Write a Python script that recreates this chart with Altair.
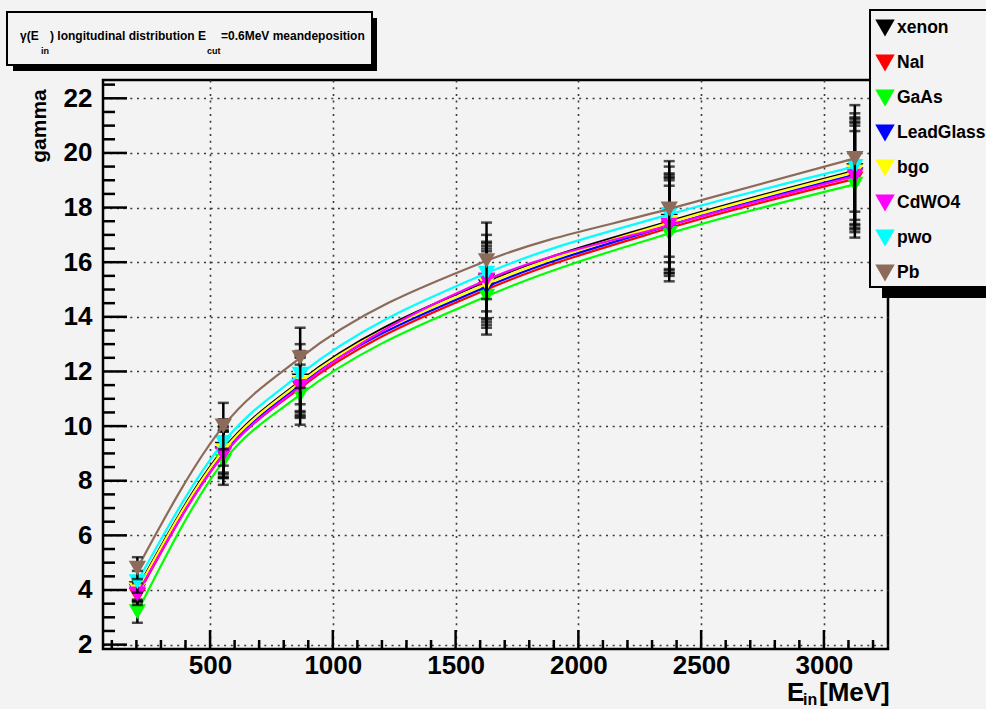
import altair as alt
import pandas as pd

# ---------------- data ----------------
ENERGY = [204, 554, 867, 1626, 2370, 3126]
SERIES = ["xenon", "NaI", "GaAs", "LeadGlass", "bgo", "CdWO4", "pwo", "Pb"]
COLORS = ["#000000", "#ff0000", "#00ff00", "#0000ff", "#ffff00", "#ff00ff", "#00ffff", "#8c6b5a"]
XENON = [4.05, 9.15, 11.65, 15.30, 17.50, 19.35]
NAI = [3.80, 8.95, 11.40, 15.00, 17.25, 19.05]
GAAS = [3.20, 8.70, 11.15, 14.75, 17.05, 18.85]
LEADGLASS = [3.95, 9.00, 11.50, 15.10, 17.35, 19.20]
BGO = [4.00, 9.10, 11.60, 15.20, 17.45, 19.30]
CDWO4 = [3.85, 8.95, 11.45, 15.35, 17.35, 19.15]
PWO = [4.30, 9.40, 11.90, 15.60, 17.75, 19.50]
PB = [4.80, 10.00, 12.50, 16.05, 17.95, 19.80]
GAMMA_ERR = [0.40, 0.85, 1.10, 1.40, 1.75, 1.95]

X_MAJOR = [500, 1000, 1500, 2000, 2500, 3000]
X_MINOR = [100, 200, 300, 400, 600, 700, 800, 900, 1100, 1200, 1300, 1400,
           1600, 1700, 1800, 1900, 2100, 2200, 2300, 2400, 2600, 2700, 2800,
           2900, 3100, 3200]
Y_MAJOR = [2, 4, 6, 8, 10, 12, 14, 16, 18, 20, 22]
Y_MINOR = [2.5, 3, 3.5, 4.5, 5, 5.5, 6.5, 7, 7.5, 8.5, 9, 9.5, 10.5, 11, 11.5,
           12.5, 13, 13.5, 14.5, 15, 15.5, 16.5, 17, 17.5, 18.5, 19, 19.5,
           20.5, 21, 21.5, 22.5]

TITLE_PARTS = ["\u03b3(E", "in", ") longitudinal distribution E", "cut", "=0.6MeV meandeposition"]
Y_TITLE = "gamma"
X_TITLE_PARTS = ["E", "in", "[MeV]"]

VALUES = [XENON, NAI, GAAS, LEADGLASS, BGO, CDWO4, PWO, PB]

# ---------------- layout ----------------
LEFT, TOP = 103, 80
W, H = 785, 569
BG = "#f3f3f3"
FONT = "Liberation Sans"

xscale = alt.Scale(domain=[64, 3261], nice=False, zero=False)
yscale = alt.Scale(domain=[1.84, 22.67], nice=False, zero=False)

xaxis = alt.Axis(values=X_MAJOR, title=None, grid=True, gridColor="#3a3a3a",
                 gridDash=[2, 4.7], gridWidth=1.6, ticks=False, tickSize=0,
                 domain=False, labelFont=FONT, labelFontWeight="bold",
                 labelFontSize=26, labelPadding=3, labelColor="black",
                 labelFlush=False, labelOverlap=False, format="d")
yaxis = alt.Axis(values=Y_MAJOR, title=None, grid=True, gridColor="#3a3a3a",
                 gridDash=[2, 4.7], gridWidth=1.6, ticks=False, tickSize=0,
                 domain=False, labelFont=FONT, labelFontWeight="bold",
                 labelFontSize=26, labelPadding=11, labelColor="black",
                 labelFlush=False, labelOverlap=False, format="d")


def xenc(f):
    return alt.X(f"{f}:Q", scale=xscale, axis=xaxis)


def yenc(f):
    return alt.Y(f"{f}:Q", scale=yscale, axis=yaxis)


one = pd.DataFrame({"k": [0]})


def px_text(label, x, y, size, font=FONT, align="left", baseline="alphabetic", angle=0):
    kw = dict(font=font, fontWeight="bold", fontSize=size, align=align,
              baseline=baseline, color="black")
    if angle:
        kw["angle"] = angle
    return alt.Chart(pd.DataFrame({"label": [label]})).mark_text(**kw).encode(
        x=alt.value(x - LEFT), y=alt.value(y - TOP), text="label:N")


def px_rect(x1, y1, x2, y2, fill, stroke=None, sw=0):
    kw = dict(fill=fill, opacity=1)
    if stroke:
        kw.update(stroke=stroke, strokeWidth=sw)
    return alt.Chart(one).mark_rect(**kw).encode(
        x=alt.value(x1 - LEFT), x2=alt.value(x2 - LEFT),
        y=alt.value(y1 - TOP), y2=alt.value(y2 - TOP))


layers = []

# tick marks (inward, ROOT style)
ymaj = pd.DataFrame({"t": Y_MAJOR})
ymin = pd.DataFrame({"t": Y_MINOR})
xmaj = pd.DataFrame({"t": X_MAJOR})
xmin = pd.DataFrame({"t": X_MINOR})
layers.append(alt.Chart(ymaj).mark_rule(color="black", strokeWidth=2.5).encode(
    y=yenc("t"), x=alt.value(0), x2=alt.value(24)))
layers.append(alt.Chart(ymin).mark_rule(color="black", strokeWidth=2.5).encode(
    y=yenc("t"), x=alt.value(0), x2=alt.value(12)))
layers.append(alt.Chart(xmaj).mark_rule(color="black", strokeWidth=2.5).encode(
    x=xenc("t"), y=alt.value(H), y2=alt.value(H - 19)))
layers.append(alt.Chart(xmin).mark_rule(color="black", strokeWidth=2.5).encode(
    x=xenc("t"), y=alt.value(H), y2=alt.value(H - 9)))

# series
for name, color, vals in zip(SERIES, COLORS, VALUES):
    d = pd.DataFrame({"E": ENERGY, "gamma": vals})
    d["lo"] = [v - e for v, e in zip(vals, GAMMA_ERR)]
    d["hi"] = [v + e for v, e in zip(vals, GAMMA_ERR)]
    base = alt.Chart(d)
    layers.append(base.mark_line(color=color, strokeWidth=2.2, interpolate="monotone").encode(
        x=xenc("E"), y=yenc("gamma")))
    layers.append(base.mark_rule(color="black", strokeWidth=2.5).encode(
        x=xenc("E"), y=yenc("lo"), y2="hi:Q"))
    layers.append(base.mark_tick(color="black", orient="horizontal", size=11, thickness=2.5).encode(
        x=xenc("E"), y=yenc("lo")))
    layers.append(base.mark_tick(color="black", orient="horizontal", size=11, thickness=2.5).encode(
        x=xenc("E"), y=yenc("hi")))
    layers.append(base.mark_point(shape="triangle-down", filled=True, size=300,
                                  color=color, opacity=1).encode(
        x=xenc("E"), y=yenc("gamma")))

# title box
layers.append(px_rect(13, 18, 377, 71, "black"))
layers.append(px_rect(7, 12, 372, 65, BG, "black", 2))
layers.append(px_text(TITLE_PARTS[0], 20, 40, 12))
layers.append(px_text(TITLE_PARTS[1], 41, 54, 9))
layers.append(px_text(TITLE_PARTS[2], 50, 40, 12))
layers.append(px_text(TITLE_PARTS[3], 207, 54, 9))
layers.append(px_text(TITLE_PARTS[4], 221, 40, 12))

# legend box
layers.append(px_rect(882, 286, 1000, 298, "black"))
layers.append(px_rect(870, 10, 1000, 287, BG, "black", 2))
for i, (name, color) in enumerate(zip(SERIES, COLORS)):
    yy = 28 + 35 * i
    layers.append(alt.Chart(pd.DataFrame({"label": [name]})).mark_point(
        shape="triangle-down", filled=True, size=380, color=color, opacity=1).encode(
        x=alt.value(885 - LEFT), y=alt.value(yy - TOP)))
    layers.append(px_text(name, 897, yy, 17.5, baseline="middle"))

# axis titles
layers.append(px_text(Y_TITLE, 40, 126, 21, align="center", baseline="middle", angle=270))
layers.append(px_text(X_TITLE_PARTS[0], 787, 701, 26))
layers.append(px_text(X_TITLE_PARTS[1], 803, 705, 16))
layers.append(px_text(X_TITLE_PARTS[2], 819, 701, 26))

chart = alt.layer(*layers).properties(
    width=W, height=H,
    padding={"left": LEFT, "top": TOP, "right": 986 - LEFT - W, "bottom": 709 - TOP - H},
    autosize=alt.AutoSizeParams(type="none"),
).configure(background=BG, font=FONT).configure_view(
    fill=BG, stroke="black", strokeWidth=2.5)

chart.save("out.html", embed_options={"renderer": "svg", "actions": False})
